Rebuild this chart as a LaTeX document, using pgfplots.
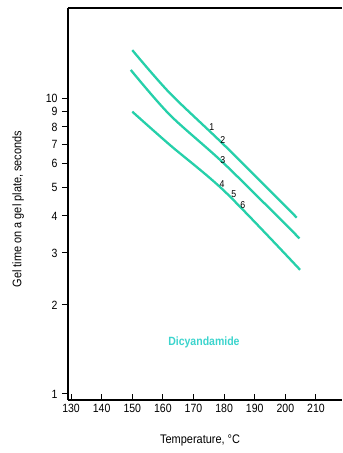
\documentclass[border=0pt]{standalone}
\usepackage{fontspec}
\setmainfont{Liberation Sans}[FakeStretch=0.88]
\usepackage{pgfplots}
\pgfplotsset{compat=1.18}
\definecolor{curve}{RGB}{38,208,170}
\definecolor{dicy}{RGB}{60,212,205}
\begin{document}
\begin{tikzpicture}
\begin{axis}[
  at={(0,0)}, anchor=south west,
  width=274bp, height=392bp, scale only axis,
  ymode=log, log basis y=10,
  xmin=129, xmax=218.5,
  ymin=0.954, ymax=20.2,
  axis x line*=bottom, axis y line*=left,
  axis line style={black, line width=1.1bp},
  xtick={130,140,...,210},
  xticklabels={130,140,150,160,170,180,190,200,210},
  ytick={1,2,3,4,5,6,7,8,9,10},
  yticklabels={1,2,3,4,5,6,7,8,9,10},
  minor ytick={}, minor xtick={},
  xtick align=inside, ytick align=outside,
  major tick length=6bp,
  tick style={black, line width=1bp},
  tick label style={font=\fontsize{12}{14}\selectfont},
  xticklabel style={yshift=-1bp},
  yticklabel style={xshift=-1bp},
  xlabel={Temperature, \textdegree C},
  ylabel={Gel time on a gel plate, seconds},
  label style={font=\fontsize{12.5}{15}\selectfont},
  xlabel style={at={(axis description cs:0.482,-0.102)}, anchor=center},
  ylabel style={at={(axis description cs:-0.182,0.487)}, anchor=center},
  clip=false,
]
\addplot[curve, line width=2.3bp, smooth] coordinates {
  (150,14.55) (162.3,10.4) (180.3,6.9) (203.7,3.95)};
\addplot[curve, line width=2.3bp, smooth] coordinates {
  (149.5,12.47) (162.3,8.78) (180.3,5.97) (204.6,3.36)};
\addplot[curve, line width=2.3bp, smooth] coordinates {
  (150,9.01) (162.3,6.95) (180.3,4.83) (204.8,2.63)};
\draw[black, line width=1.1bp] (rel axis cs:0,1) -- (rel axis cs:1,1);
\begin{scope}[every node/.style={font=\fontsize{10}{11}\selectfont, inner sep=0pt}]
\node at (axis cs:176.0,8.0) {1};
\node at (axis cs:179.6,7.23) {2};
\node at (axis cs:179.6,6.18) {3};
\node at (axis cs:179.3,5.13) {4};
\node at (axis cs:183.2,4.75) {5};
\node at (axis cs:186.1,4.36) {6};
\end{scope}
\node[text=dicy, font=\fontsize{12}{14}\selectfont\bfseries] at (axis cs:173.4,1.49) {Dicyandamide};
\end{axis}
\path[use as bounding box] (-68bp,-53bp) rectangle (274bp,400bp);
\end{tikzpicture}
\end{document}
